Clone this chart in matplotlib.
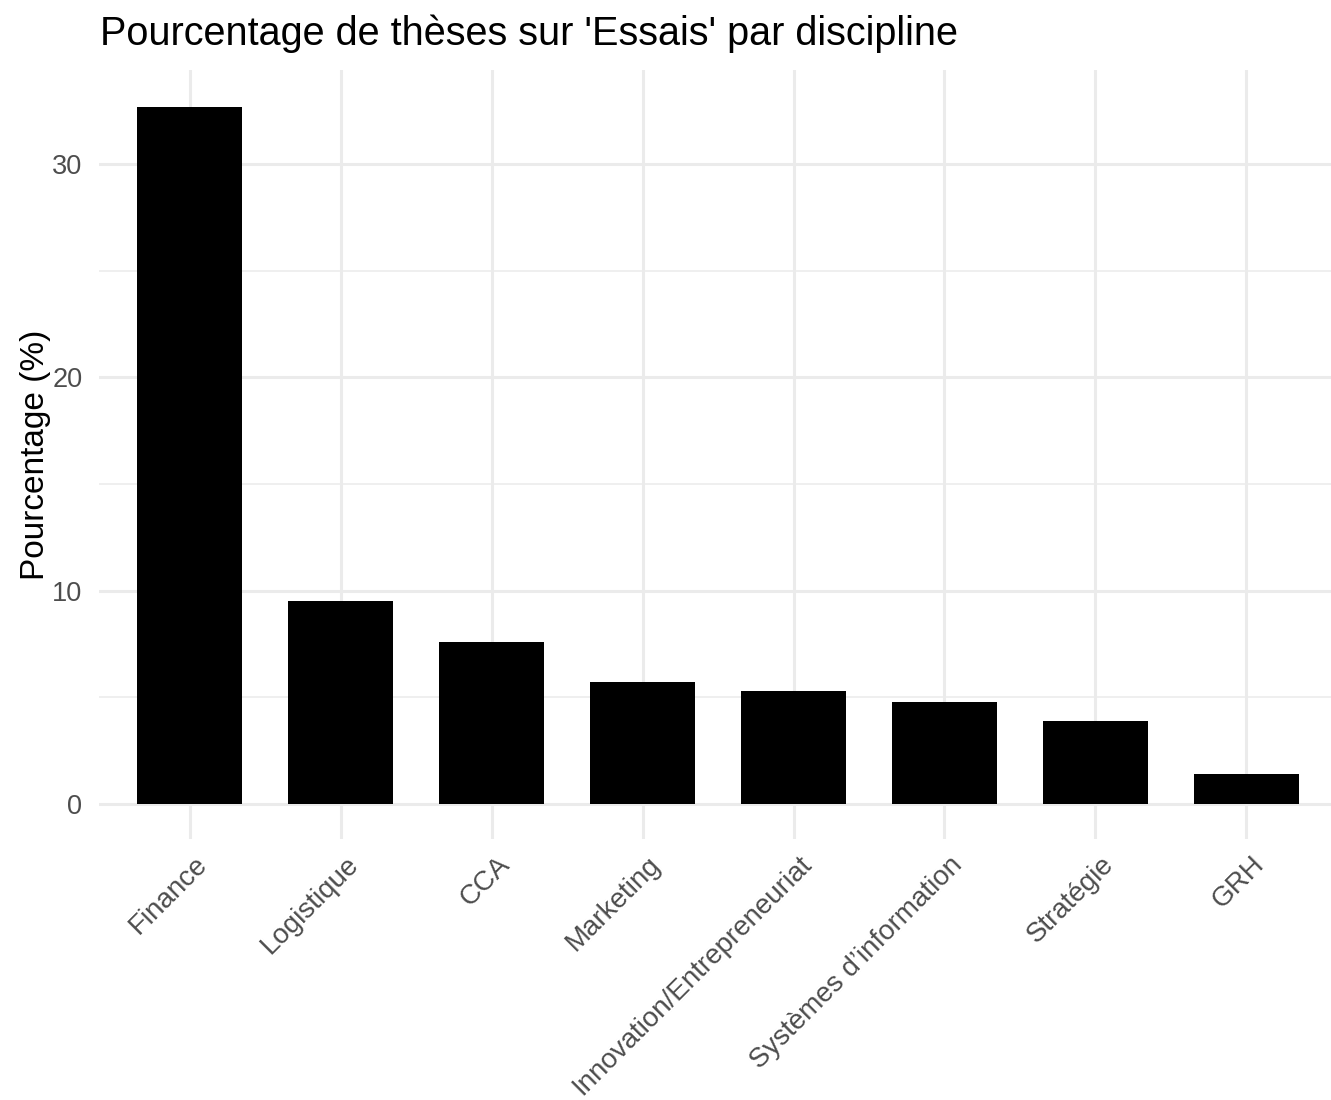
import matplotlib.pyplot as plt
from matplotlib.ticker import MultipleLocator
from matplotlib.transforms import ScaledTranslation

plt.rcParams['font.family'] = ['Liberation Sans', 'DejaVu Sans']

disciplines = ['Finance', 'Logistique', 'CCA', 'Marketing',
               'Innovation/Entrepreneuriat', 'Systèmes d\u2019information',
               'Stratégie', 'GRH']
pourcentages = [32.7, 9.5, 7.6, 5.7, 5.3, 4.8, 3.9, 1.4]

fig = plt.figure(figsize=(13.31, 11), dpi=100)
ax = fig.add_axes([0.0744, 0.2373, 1238 / 1331, 0.699])

x = range(len(disciplines))
ax.bar(x, pourcentages, width=0.7, color='black', zorder=3)

ax.set_xlim(-0.6, 7.6)
ax.set_ylim(-1.64, 34.41)
ax.yaxis.set_major_locator(MultipleLocator(10))
ax.yaxis.set_minor_locator(MultipleLocator(5))
ax.grid(which='major', color='#EBEBEB', linewidth=2.2, zorder=0)
ax.grid(which='minor', axis='y', color='#EBEBEB', linewidth=1.1, zorder=0)
for s in ax.spines.values():
    s.set_visible(False)
ax.tick_params(which='both', length=0)
ax.tick_params(axis='y', labelsize=19.5, labelcolor='#4D4D4D', pad=12)
ax.tick_params(axis='x', labelsize=20, labelcolor='#4D4D4D', pad=9)

ax.set_xticks(list(x))
ax.set_xticklabels(disciplines, rotation=45, ha='right', va='top',
                   rotation_mode='anchor')
# nudge labels a bit to the right, like ggplot's hjust=1
shift = ScaledTranslation(5 / 100, 0, fig.dpi_scale_trans)
for lab in ax.get_xticklabels():
    lab.set_transform(lab.get_transform() + shift)

ax.set_ylabel('Pourcentage (%)', fontsize=24, labelpad=1)
fig.text(0.0752, 0.969, "Pourcentage de thèses sur 'Essais' par discipline",
         fontsize=28.5, ha='left', va='center')

fig.savefig('out.png', dpi=100, facecolor='white')
